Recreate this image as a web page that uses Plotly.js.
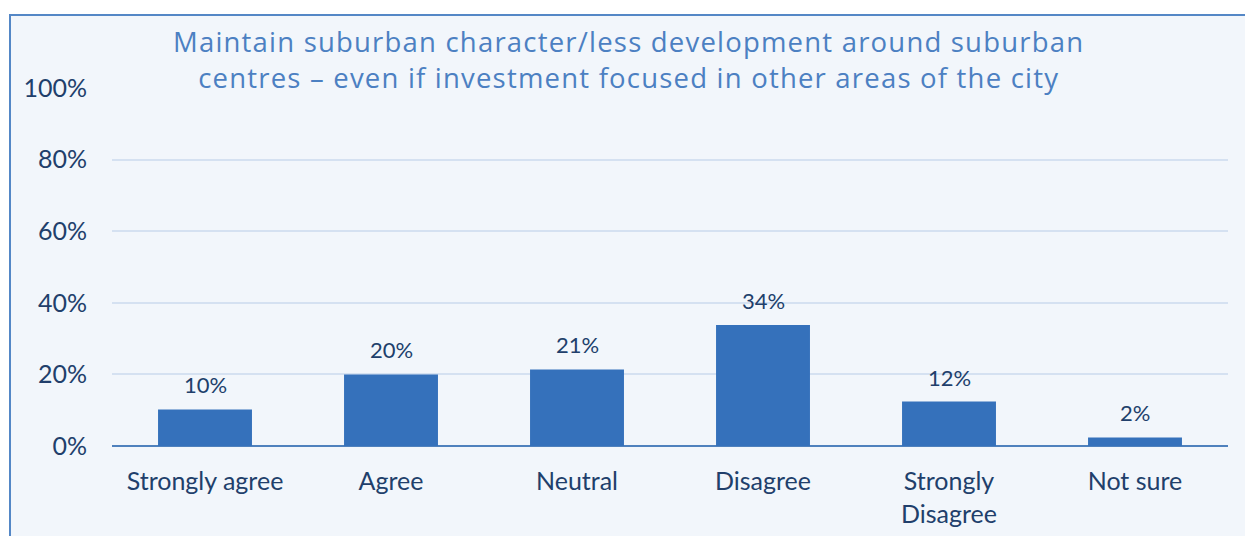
<!DOCTYPE html>
<html>
<head>
<meta charset="utf-8">
<script src="https://cdn.plot.ly/plotly-3.0.1.min.js"></script>
<style>
  html, body { margin: 0; padding: 0; background: #ffffff; width: 1245px; height: 536px; overflow: hidden; }
  #frame { position: absolute; left: 9px; top: 14px; width: 1236px; height: 522px;
           border-left: 2px solid #5487C6; border-top: 2px solid #5487C6; background: #F2F6FB; }
  #chart { position: absolute; left: 0; top: 0; width: 1234px; height: 520px; }
  #chart g.annotation[data-index="6"] text { letter-spacing: 1.2px; }
</style>
</head>
<body>
<div id="frame"><div id="chart"></div></div>
<script>
const categories = ["Strongly agree", "Agree", "Neutral", "Disagree", "Strongly<br>Disagree", "Not sure"];
const values = [10.2, 20.0, 21.4, 33.8, 12.4, 2.4];
const yTickValues = [0, 20, 40, 60, 80, 100];
const yTickLabels = ["0%", "20%", "40%", "60%", "80%", "100%"];
const chartTitle = "Maintain suburban character/less development around suburban<br>centres \u2013 even if investment focused in other areas of the city";

const labelFont = { family: "Lato, 'Open Sans', sans-serif", size: 25, color: "#213F6B" };

const trace = {
  type: "bar",
  x: categories,
  y: values,
  marker: { color: "#3571BB", line: { width: 0 } },
  hoverinfo: "skip",
  cliponaxis: false
};

const annotations = categories.map((c, i) => ({
  x: c, y: values[i], xref: "x", yref: "y",
  text: Math.round(values[i]) + "%",
  showarrow: false, yanchor: "bottom", yshift: 9,
  font: { family: labelFont.family, size: 22, color: "#213F6B" }
}));

annotations.push({
  text: chartTitle,
  xref: "paper", yref: "paper",
  x: (617 - 101) / 1116, y: 1, xanchor: "center", yanchor: "middle",
  yshift: 28.5, showarrow: false, align: "center",
  font: { family: "'Open Sans', sans-serif", size: 27.5, color: "#4C80C2" }
});

const layout = {
  width: 1234, height: 520,
  paper_bgcolor: "#F2F6FB", plot_bgcolor: "#F2F6FB",
  margin: { l: 101, r: 17, t: 72, b: 90 },
  showlegend: false,
  bargap: 0.495,
  xaxis: {
    type: "category",
    showgrid: false, showline: false, zeroline: false,
    ticks: "", ticklabelstandoff: 18,
    tickfont: labelFont, fixedrange: true
  },
  yaxis: {
    range: [0, 100],
    tickvals: yTickValues, ticktext: yTickLabels,
    showgrid: true, gridcolor: "#D5E1F1", gridwidth: 2,
    zeroline: true, zerolinecolor: "#4F81BD", zerolinewidth: 2,
    showline: false, ticks: "", ticklabelstandoff: 24,
    tickfont: labelFont, fixedrange: true
  },
  annotations: annotations
};

Plotly.newPlot("chart", [trace], layout, { displayModeBar: false, staticPlot: true });
</script>
</body>
</html>
